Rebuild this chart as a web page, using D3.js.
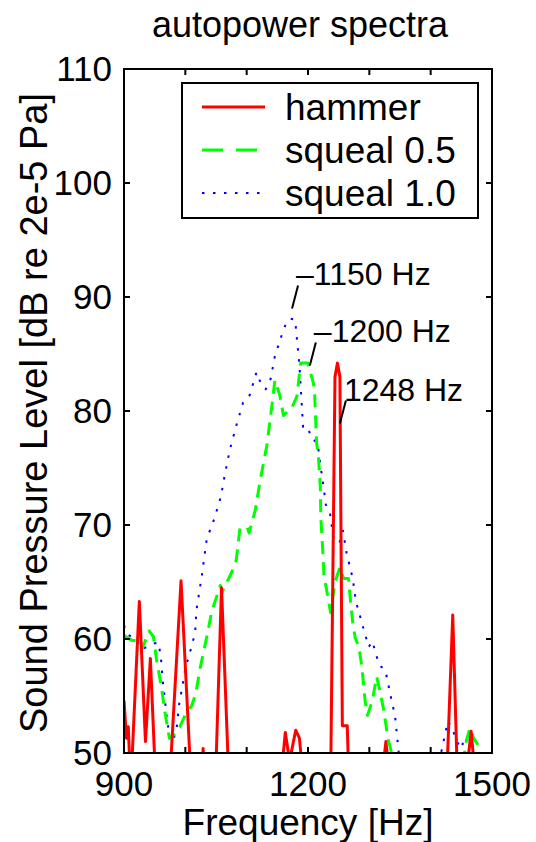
<!DOCTYPE html>
<html>
<head>
<meta charset="utf-8">
<script src="https://cdn.jsdelivr.net/npm/d3@7"></script>
<style>
  body { margin: 0; background: #fff; }
  text { font-family: "Liberation Sans", Arial, sans-serif; fill: #000; }
</style>
</head>
<body>
<svg id="chart" width="536" height="842"></svg>
<script>
// hammer excitation, [Hz, dB]
const hammer = [
  [900,54.6],[904,51.3],[907,52.3],[911,47],[925,63.3],[935,51],[943,58.3],[952,47],[965,45],
  [976,49],[993,65.1],[1008,49],[1020,45],[1027,48],[1029,50.4],[1031,48],[1040,45],
  [1050,49],[1059,64.5],[1070,49],[1090,45],[1140,45],[1158,49],[1163,51.8],[1170,49.3],
  [1180,52],[1186,51.3],[1190,49],[1210,45],[1237,48],[1244,83],[1248,84.2],[1252,83],
  [1256,52.4],[1264,52.4],[1267,47],[1300,45],[1323,49],[1327,51],[1331,49],[1380,45],
  [1427,49],[1436,62.1],[1443,49],[1452,45],[1461,49.5],[1466,51.9],[1470,49.5],[1480,45],[1500,45]
]

const squeal05 = [
  [900,60.3],[912,59.9],[926,59.8],[930,59.2],[941,60.7],[948,60.2],[953,58.2],[961,55.8],
  [967,53.5],[974,51.3],[980,51.5],[985,52],[991,52.3],[1002,53.6],[1010,54.1],[1017,55.2],
  [1024,57.4],[1035,60.2],[1043,62.4],[1057,64.7],[1060,64.1],[1076,65.9],[1083,66.9],
  [1089,69.7],[1101,69.8],[1104,69.3],[1114,71.3],[1122,73.9],[1133,77],[1141,80.4],
  [1146,82.7],[1154,81.4],[1160,79.6],[1168,80],[1173,80.2],[1182,81.3],[1188,84.2],
  [1200,84.2],[1209,82.4],[1211,81.3],[1214,77.2],[1217,76],[1220,73.4],[1221,70.6],
  [1224,67.8],[1226,65.6],[1230,64.4],[1237,62.3],[1244,65],[1252,66.3],[1258,65.3],
  [1266,65.3],[1268,64.1],[1273,61.4],[1277,60.1],[1283,59.3],[1288,57.5],[1293,54.6],
  [1297,53.3],[1305,54.6],[1312,56.7],[1317,55.5],[1323,53.9],[1331,51.1],[1339,49.5],
  [1360,46],[1440,46],[1450,48],[1458,51],[1464,52.2],[1470,51.3],[1476,50.8],[1481,48],[1500,46]
]

const squeal10 = [
  [900,61.2],[906,60.4],[912,60.2],[920,59.9],[930,59.1],[940,59.4],[949,59.6],[956,59.7],
  [960,58.5],[963,56.4],[966,55],[970,53],[975,51.2],[980,51],[986,52.3],[990,54.3],
  [995,55.8],[1000,57.4],[1011,59.5],[1016,60.6],[1018,62.5],[1027,65.6],[1035,68.8],
  [1047,70.5],[1058,72.5],[1065,74.6],[1073,76.7],[1083,78.7],[1094,80.7],[1105,81.4],
  [1116,83.4],[1124,82.3],[1131,81.9],[1139,82.8],[1146,84.8],[1158,86.8],[1165,87.8],
  [1171,88.1],[1179,88],[1186,84],[1192,78.6],[1200,78.6],[1205,77.6],[1216,77.2],
  [1218,76.1],[1225,73.5],[1229,71.8],[1236,71],[1241,69],[1251,68.4],[1257,69.5],
  [1263,67.5],[1268,66.4],[1273,65.3],[1278,63.3],[1288,61.4],[1299,59.3],[1305,59.8],
  [1316,57.7],[1326,57.3],[1334,55.2],[1342,53.2],[1348,50],[1360,46],[1400,46],
  [1415,49.5],[1428,52.8],[1436,52.1],[1441,51.1],[1451,50.4],[1454,51.4],[1460,51.1],
  [1463,50.1],[1470,46],[1500,46]
]

const seriesNames = ['hammer', 'squeal 0.5', 'squeal 1.0']
const xTicks = [900, 1000, 1100, 1200, 1300, 1400, 1500]
const xTickLabels = [900, 1200, 1500]
const yTicks = [50, 60, 70, 80, 90, 100, 110]
// where each leader line starts (Hz, dB) and its text
const peakLabels = ['\u20131150 Hz', '\u20131200 Hz', '1248 Hz']
const peakF = [1174, 1203, 1252]
const peakV = [89.0, 84.0, 78.9]

const svg = d3.select('#chart')
const x = d3.scaleLinear().domain([900, 1500]).range([124, 492])
const y = d3.scaleLinear().domain([50, 110]).range([753, 69])

svg.append('clipPath').attr('id', 'plotclip')
  .append('rect')
  .attr('x', x(900)).attr('y', y(110))
  .attr('width', x(1500) - x(900)).attr('height', y(50) - y(110))

const line = d3.line().x(d => x(d[0])).y(d => y(d[1]))
const plot = svg.append('g').attr('clip-path', 'url(#plotclip)')

const styles = [
  { data: hammer, color: '#ff0000', width: 3, dash: null },
  { data: squeal05, color: '#00ff00', width: 3, dash: '13,8' },
  { data: squeal10, color: '#0000ff', width: 2, dash: '2.5,8.5' }
]

// dotted first so the others sit on top
;[2, 1, 0].forEach(i => {
  const s = styles[i]
  plot.append('path')
    .datum(s.data)
    .attr('d', line)
    .attr('fill', 'none')
    .attr('stroke', s.color)
    .attr('stroke-width', s.width)
    .attr('stroke-dasharray', s.dash)
    .attr('stroke-linejoin', 'round')
})

// frame + ticks on all four sides
svg.append('rect')
  .attr('x', x(900)).attr('y', y(110))
  .attr('width', x(1500) - x(900)).attr('height', y(50) - y(110))
  .attr('fill', 'none').attr('stroke', '#000').attr('stroke-width', 2)

const tl = 6
xTicks.forEach(t => {
  svg.append('line').attr('x1', x(t)).attr('x2', x(t)).attr('y1', y(50)).attr('y2', y(50) - tl)
    .attr('stroke', '#000').attr('stroke-width', 2)
  svg.append('line').attr('x1', x(t)).attr('x2', x(t)).attr('y1', y(110)).attr('y2', y(110) + tl)
    .attr('stroke', '#000').attr('stroke-width', 2)
})
yTicks.forEach(t => {
  svg.append('line').attr('x1', x(900)).attr('x2', x(900) + tl).attr('y1', y(t)).attr('y2', y(t))
    .attr('stroke', '#000').attr('stroke-width', 2)
  svg.append('line').attr('x1', x(1500)).attr('x2', x(1500) - tl).attr('y1', y(t)).attr('y2', y(t))
    .attr('stroke', '#000').attr('stroke-width', 2)
  svg.append('text').attr('x', 112).attr('y', y(t) + 12)
    .attr('text-anchor', 'end').style('font-size', '35px').text(t)
})
xTickLabels.forEach(t => {
  svg.append('text').attr('x', x(t)).attr('y', 796)
    .attr('text-anchor', 'middle').style('font-size', '35px').text(t)
})

svg.append('text').attr('x', 308).attr('y', 835)
  .attr('text-anchor', 'middle').style('font-size', '37px').text('Frequency [Hz]')
svg.append('text').attr('transform', 'translate(47,413) rotate(-90)')
  .attr('text-anchor', 'middle').style('font-size', '38px').text('Sound Pressure Level [dB re 2e-5 Pa]')
svg.append('text').attr('x', 300).attr('y', 37)
  .attr('text-anchor', 'middle').style('font-size', '36px').text('autopower spectra')

// peak annotations
peakLabels.forEach((lab, i) => {
  const px = x(peakF[i]), py = y(peakV[i])
  svg.append('line')
    .attr('x1', px).attr('y1', py)
    .attr('x2', px + 6).attr('y2', py - 23)
    .attr('stroke', '#000').attr('stroke-width', 2)
  svg.append('text').attr('x', px + 4).attr('y', py - 23)
    .style('font-size', '32px').text(lab)
})

// legend
const lg = svg.append('g')
lg.append('rect').attr('x', 182).attr('y', 83).attr('width', 296).attr('height', 135)
  .attr('fill', '#fff').attr('stroke', '#000').attr('stroke-width', 2)
seriesNames.forEach((n, i) => {
  const s = styles[i]
  const yy = 107 + i * 43
  lg.append('line').attr('x1', 202).attr('x2', 265).attr('y1', yy).attr('y2', yy)
    .attr('stroke', s.color).attr('stroke-width', s.width)
    .attr('stroke-dasharray', i === 1 ? '21,13' : s.dash)
  lg.append('text').attr('x', 285).attr('y', yy + 13)
    .style('font-size', '37px').text(n)
})
</script>
</body>
</html>
